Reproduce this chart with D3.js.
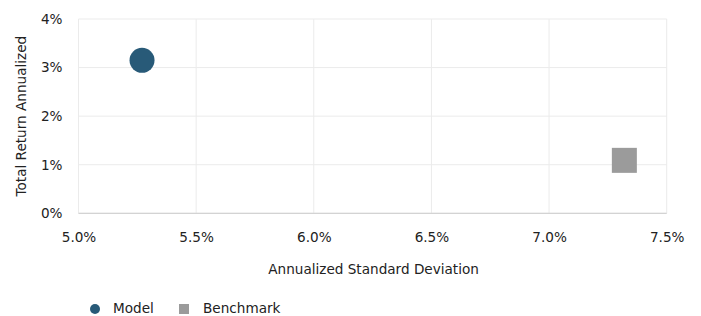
<!DOCTYPE html>
<html><head><meta charset="utf-8">
<script src="https://cdn.jsdelivr.net/npm/d3@7"></script>
<style>
body{margin:0;background:#fff;}
text{font-family:"DejaVu Sans",Verdana,sans-serif;fill:#222;}
</style></head>
<body><svg id="c" width="701" height="316"></svg>
<script>
const seriesNames = ["Model", "Benchmark"];
const stdDev = [5.27, 7.32];
const totalReturn = [3.15, 1.09];
const seriesColors = ["#285a78", "#9b9b9b"];
const xTicks = [5.0, 5.5, 6.0, 6.5, 7.0, 7.5];
const yTicks = [0, 1, 2, 3, 4];

const svg = d3.select("#c");
const m = {l:78.5, r:666.7, t:19, b:213.3};
const x = d3.scaleLinear().domain([5.0, 7.5]).range([m.l, m.r]);
const y = d3.scaleLinear().domain([0, 4]).range([m.b, m.t]);
const fs = "13.6px";

svg.append("g").selectAll("line").data(xTicks).join("line")
  .attr("x1", d=>x(d)).attr("x2", d=>x(d)).attr("y1", m.t).attr("y2", m.b)
  .attr("stroke", "#ebebeb").attr("stroke-width", 1);
svg.append("g").selectAll("line").data(yTicks).join("line")
  .attr("x1", m.l).attr("x2", m.r).attr("y1", d=>y(d)).attr("y2", d=>y(d))
  .attr("stroke", "#ebebeb").attr("stroke-width", 1);
svg.append("line").attr("x1", m.l).attr("x2", m.r).attr("y1", m.b).attr("y2", m.b)
  .attr("stroke", "#cccccc");

const xAxis = d3.axisBottom(x).tickValues(xTicks).tickFormat(d=>d.toFixed(1)+"%").tickSize(0).tickPadding(19);
const gx = svg.append("g").attr("transform", `translate(0,${m.b})`).call(xAxis);
gx.select(".domain").remove();
gx.selectAll("text").style("font-size",fs).attr("fill","#222");

const yAxis = d3.axisLeft(y).tickValues(yTicks).tickFormat(d=>d+"%").tickSize(0).tickPadding(16);
const gy = svg.append("g").attr("transform", `translate(${m.l},0)`).call(yAxis);
gy.select(".domain").remove();
gy.selectAll("text").style("font-size",fs).attr("fill","#222");

svg.append("text").attr("x", (m.l+m.r)/2 + 1).attr("y", 274).attr("text-anchor","middle")
  .style("font-size",fs).text("Annualized Standard Deviation");
svg.append("text").attr("transform", `translate(26,${(m.t+m.b)/2}) rotate(-90)`).attr("text-anchor","middle")
  .style("font-size",fs).text("Total Return Annualized");

const data = seriesNames.map((n,i)=>({name:n, x:stdDev[i], y:totalReturn[i], color:seriesColors[i]}));
svg.append("circle").datum(data[0]).attr("cx", d=>x(d.x)).attr("cy", d=>y(d.y)).attr("r", 12.5).attr("fill", d=>d.color);
svg.append("rect").datum(data[1]).attr("x", d=>x(d.x)-12.5).attr("y", d=>y(d.y)-12.5).attr("width",25).attr("height",25).attr("fill", d=>d.color);

const lg = svg.append("g");
lg.append("circle").attr("cx", 95).attr("cy", 309).attr("r", 5).attr("fill", seriesColors[0]);
lg.append("text").attr("x", 113).attr("y", 312.5).style("font-size",fs).text(seriesNames[0]);
lg.append("rect").attr("x", 179).attr("y", 304).attr("width", 10).attr("height", 10).attr("fill", seriesColors[1]);
lg.append("text").attr("x", 203).attr("y", 312.5).style("font-size",fs).text(seriesNames[1]);
</script></body></html>
